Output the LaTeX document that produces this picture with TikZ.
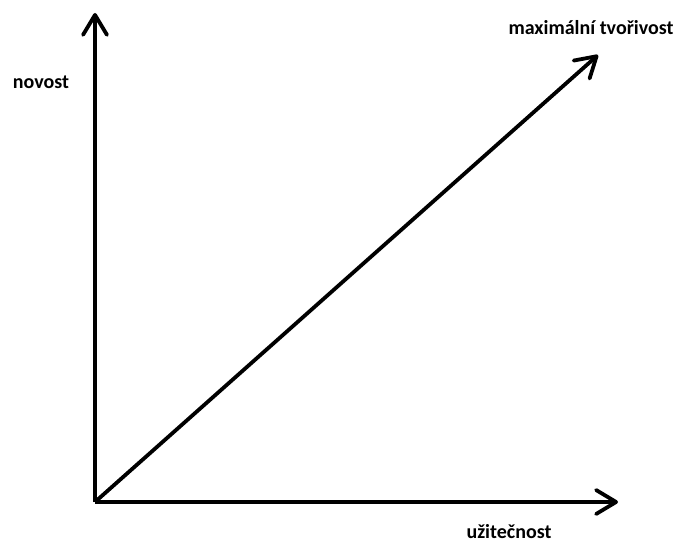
\documentclass[tikz,border=0pt]{standalone}
\usepackage{fontspec}
\setmainfont{Carlito}
\usepackage{tikz}
\usetikzlibrary{positioning,arrows.meta}

\begin{document}
\begin{tikzpicture}[x=1pt,y=-1pt,
  axis/.style={line width=3.8pt,-{Straight Barb[length=20pt,width=24pt,line cap=round,line join=round]}},
  lbl/.style={font=\fontsize{20}{24}\selectfont\bfseries,inner sep=0pt}]
\useasboundingbox (0,0) rectangle (678,543);
% origin and tips
\coordinate (origin) at (95,502);
\coordinate (ytip) at (95,13);
\coordinate (xtip) at (618,502);
\coordinate (dtip) at (598,55);
% axes and diagonal
\draw[axis] (origin) -- (ytip);
\draw[axis] (origin) -- (xtip);
\draw[axis] (origin) -- (dtip);
% labels
\node[lbl] (novost) at (41,82) {novost};
\node[lbl] (max) at (591,28) {maximální tvořivost};
\node[lbl] (uzit) at (509,532) {užitečnost};
\end{tikzpicture}
\end{document}
